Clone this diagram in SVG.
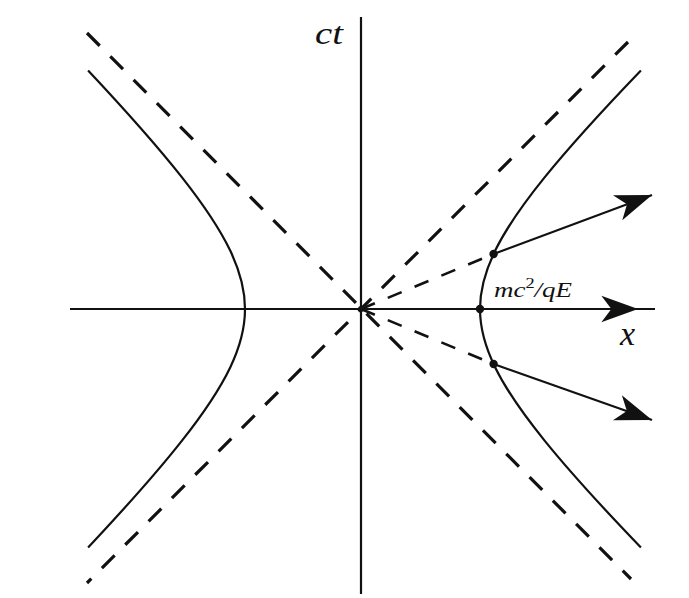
<svg xmlns="http://www.w3.org/2000/svg" width="689" height="598" viewBox="0 0 689 598">
<style>
.axis{stroke:#111;stroke-width:2.2;fill:none}
.curve{stroke:#111;stroke-width:2.2;fill:none}
.asym{stroke:#111;stroke-width:3.2;fill:none;stroke-dasharray:18 15}
.ray{stroke:#111;stroke-width:2.6;fill:none;stroke-dasharray:15 14}
.vec{stroke:#111;stroke-width:2.2;fill:none}
.lbl{font-family:"Liberation Serif","DejaVu Serif",serif;font-style:italic;fill:#111}
.dot{fill:#111}
</style>
<defs>
<marker id="head" markerUnits="userSpaceOnUse" markerWidth="40" markerHeight="30" viewBox="-34 -13 36 26" refX="0" refY="0" orient="auto">
<path d="M0,0 L-33,-12 L-24,0 L-33,12 Z" fill="#111"/>
</marker>
</defs>
<rect width="689" height="598" fill="#fff"/>
<g id="connectors">
<path id="x-axis" class="axis" d="M70,309 L638,309 L655,309" marker-mid="url(#head)"/>
<path id="ct-axis" class="axis" d="M361,17 L361,594"/>
<path class="asym" d="M87,33 L631,579"/>
<path class="asym" d="M628,42 L87,583"/>
<path class="ray" d="M361,309 L493.6,254"/>
<path class="ray" d="M361,309 L493.6,364"/>
<path class="vec" d="M493.6,254 L652,195" marker-end="url(#head)"/>
<path class="vec" d="M493.6,364 L652,420" marker-end="url(#head)"/>
</g>
<g id="right-branch">
<path class="curve" d="M640.9,547.5 C598.7,503.6 567.9,469.4 544.6,440.6 C521.3,411.8 505.5,388.45 495.2,367.4 C484.9,346.35 480,327.67 480,309 C480,290.33 484.9,271.65 495.2,250.6 C505.5,229.55 521.3,206.2 544.6,177.4 C567.9,148.6 598.7,114.4 640.9,70.5"/>
</g>
<g id="left-branch">
<path class="curve" d="M88.1,547.5 C129.3,503.6 159.3,469.4 182,440.6 C204.7,411.8 220.1,388.45 230.2,367.4 C240.3,346.35 245,327.67 245,309 C245,290.33 240.3,271.65 230.2,250.6 C220.1,229.55 204.7,206.2 182,177.4 C159.3,148.6 129.3,114.4 88.1,70.5"/>
</g>
<g id="points">
<circle class="dot" cx="493.6" cy="254" r="4.2"/>
<circle class="dot" cx="480" cy="309" r="4.2"/>
<circle class="dot" cx="493.6" cy="364" r="4.2"/>
<circle class="dot" cx="361" cy="309" r="3"/>
</g>
<g id="labels">
<text class="lbl" x="315" y="44" font-size="32" textLength="28" lengthAdjust="spacingAndGlyphs">ct</text>
<text class="lbl" x="620" y="345" font-size="34">x</text>
<text class="lbl" x="494" y="297" font-size="22" textLength="78" lengthAdjust="spacingAndGlyphs">mc<tspan font-style="normal" font-size="15" dy="-9">2</tspan><tspan dy="9">/qE</tspan></text>
</g>
</svg>
